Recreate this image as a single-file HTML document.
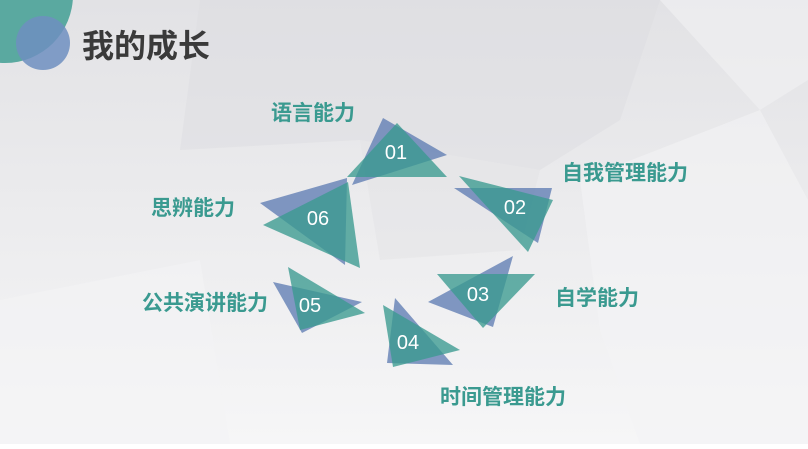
<!DOCTYPE html>
<html><head><meta charset="utf-8"><style>
body{margin:0;width:808px;height:444px;overflow:hidden;font-family:"Liberation Sans","Noto Sans CJK SC",sans-serif}
polygon.b{fill:#5a78b0;fill-opacity:0.75}
polygon.t{fill:#3a9a90;fill-opacity:0.78}
</style></head><body>
<svg width="808" height="444" viewBox="0 0 808 444" xmlns="http://www.w3.org/2000/svg">
<defs>
<linearGradient id="bg" x1="0" y1="0" x2="0" y2="1">
<stop offset="0" stop-color="#e2e2e5"/><stop offset="0.45" stop-color="#ebebed"/><stop offset="1" stop-color="#f6f6f7"/></linearGradient>
</defs>
<rect width="808" height="444" fill="url(#bg)"/>
<polygon points="200,0 660,0 620,120 540,170 360,140 180,150" fill="#dcdcdf" opacity="0.45"/>
<polygon points="360,140 540,170 520,250 380,260" fill="#e2e2e5" opacity="0.45"/>
<polygon points="660,0 808,0 808,80 760,110" fill="#f1f1f3" opacity="0.6"/>
<polygon points="580,180 760,110 808,200 808,444 640,444 600,330" fill="#f4f4f5" opacity="0.6"/>
<polygon points="0,300 200,260 230,444 0,444" fill="#f3f3f5" opacity="0.6"/>
<circle cx="5" cy="-5" r="68" fill="#5aa9a0"/>
<circle cx="43" cy="43" r="27" fill="#6f8fc0" opacity="0.85"/>
<text x="82" y="57" font-size="32" font-weight="bold" fill="#3a3a3a" font-family="Liberation Sans,Noto Sans CJK SC,sans-serif">我的成长</text>
<g>
<polygon class="b" points="383,118 447,155 352,185"/>
<polygon class="t" points="397,123 447,177 347,177"/>
<polygon class="b" points="454,188 552,188 538,243"/>
<polygon class="t" points="459,176 553,200 528,252"/>
<polygon class="b" points="428,302 513,256 493,327"/>
<polygon class="t" points="437,274 535,274 483,328"/>
<polygon class="b" points="395,298 453,365 387,363"/>
<polygon class="t" points="383,305 460,350 393,367"/>
<polygon class="b" points="273,282 362,302 302,333"/>
<polygon class="t" points="288,267 365,313 300,330"/>
<polygon class="b" points="260,203 347,178 345,265"/>
<polygon class="t" points="263,225 348,182 360,268"/>
</g>
<g fill="#fff" font-size="20" text-anchor="middle" font-family="Liberation Sans,sans-serif">
<text x="396" y="159">01</text><text x="515" y="214">02</text><text x="478" y="301">03</text>
<text x="408" y="349">04</text><text x="310" y="312">05</text><text x="318" y="225">06</text>
</g>
<g fill="#3a9a90" font-size="21" font-weight="bold" font-family="Liberation Sans,Noto Sans CJK SC,sans-serif">
<text x="271" y="120">语言能力</text>
<text x="562" y="180">自我管理能力</text>
<text x="151" y="215">思辨能力</text>
<text x="555" y="305">自学能力</text>
<text x="142" y="310">公共演讲能力</text>
<text x="440" y="404">时间管理能力</text>
</g>
</svg>
</body></html>
